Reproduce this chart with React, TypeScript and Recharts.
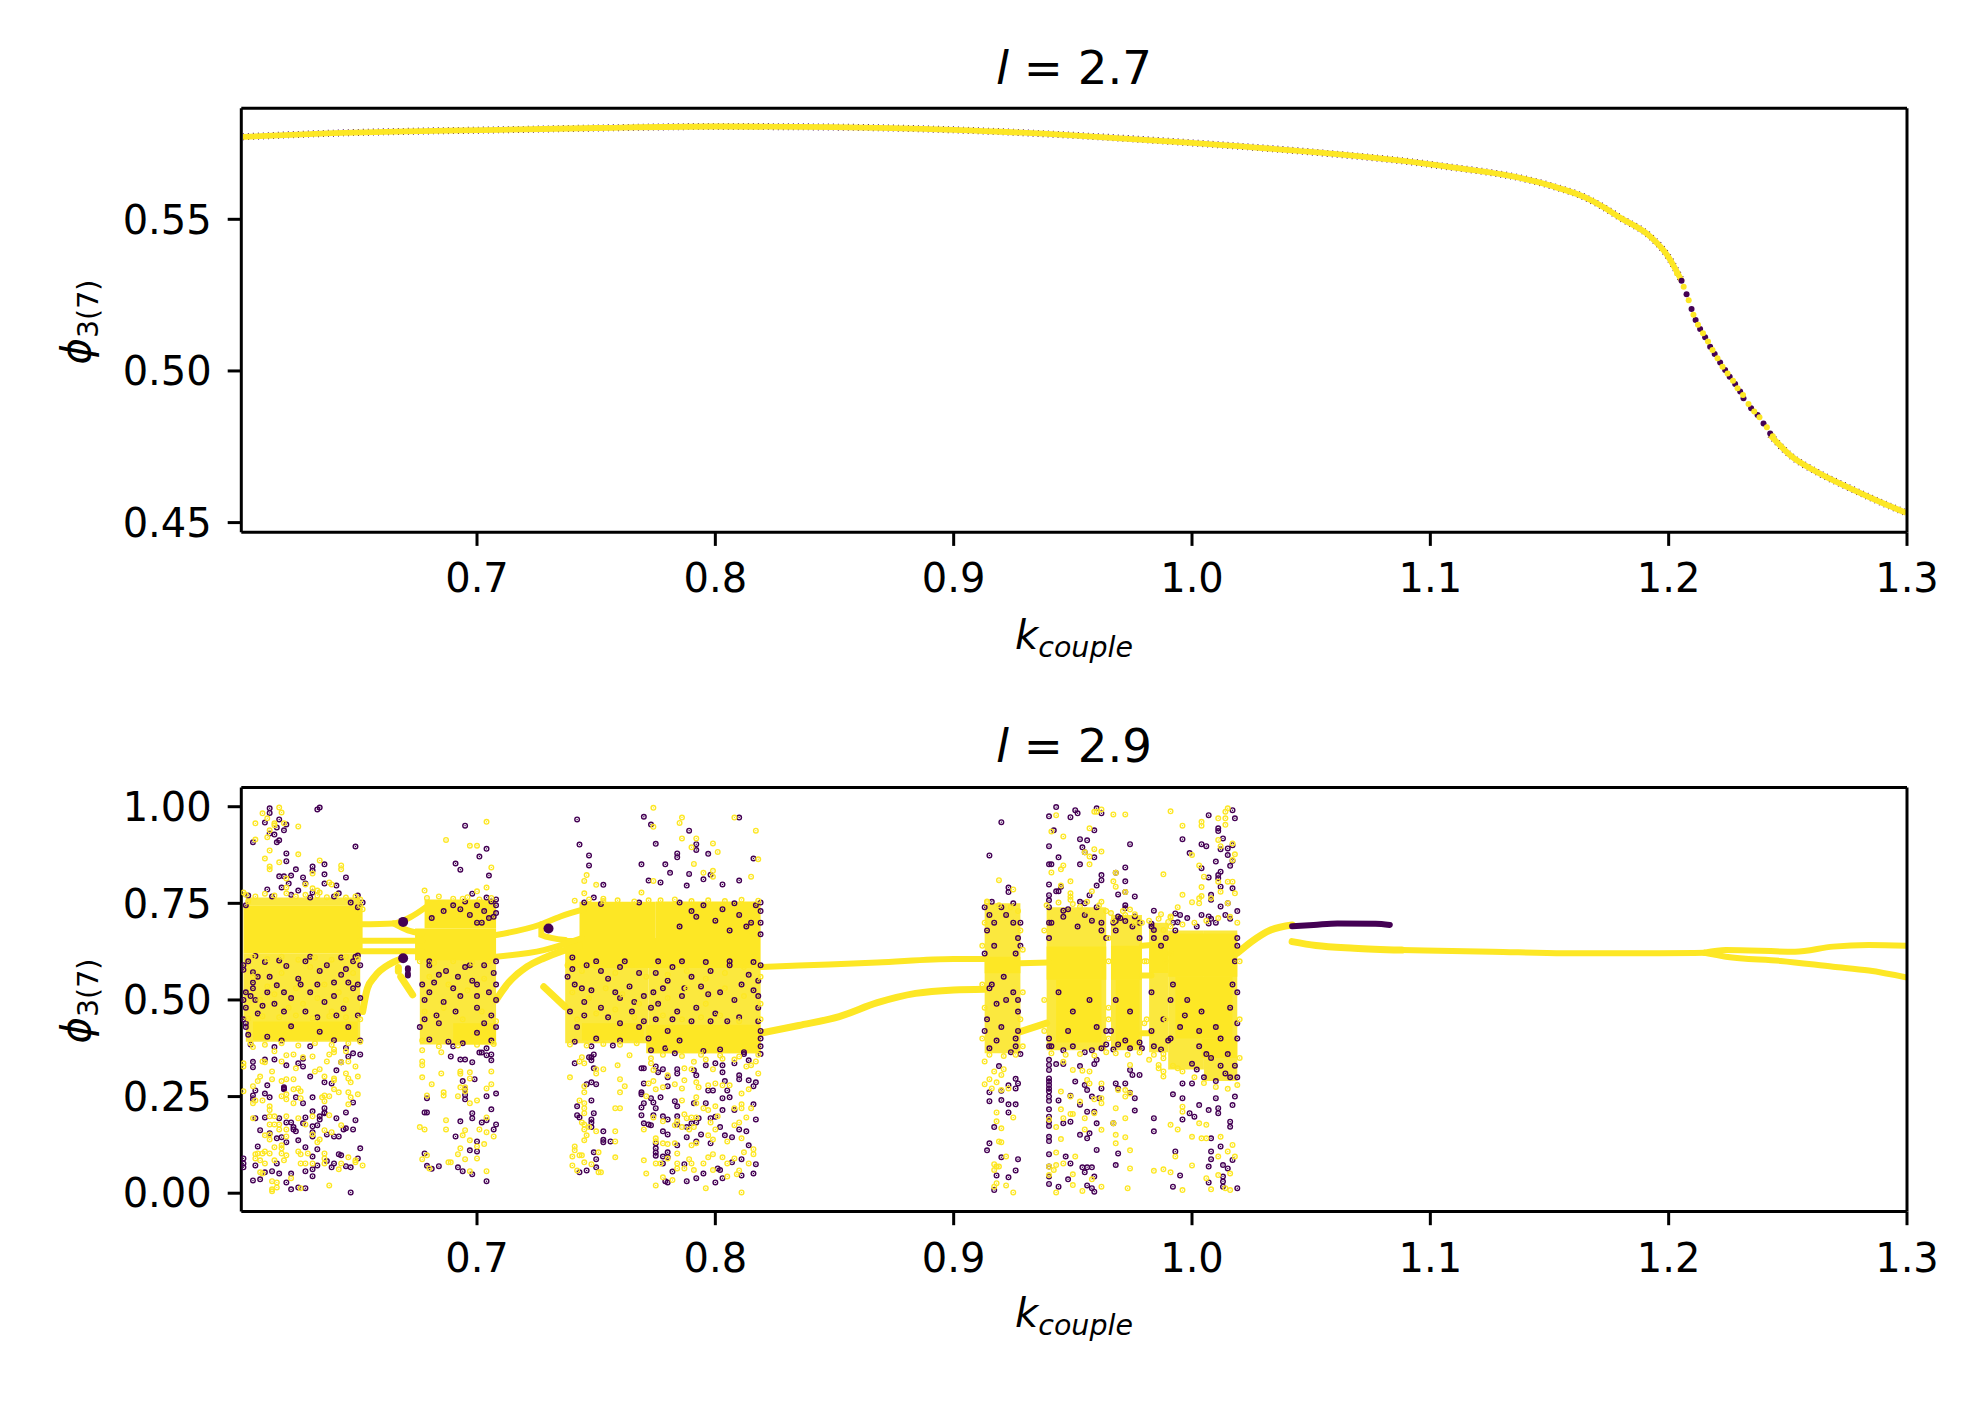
import { Area, ComposedChart, Line, Scatter, XAxis, YAxis } from "recharts";

const PURPLE = "#440154";
const YELLOW = "#fde725";
const PALE = "#fbe83e";

const X_DOMAIN = [0.6011, 1.3];
const X_TICKS = [0.7, 0.8, 0.9, 1.0, 1.1, 1.2, 1.3];
const TOP_DOMAIN = [0.4468, 0.5866];
const TOP_TICKS = [0.45, 0.5, 0.55];
const BOTTOM_DOMAIN = [-0.0476, 1.0497];
const BOTTOM_TICKS = [0, 0.25, 0.5, 0.75, 1];

// l = 2.7 : single branch
const topK = [0.6018, 0.6396, 0.6705, 0.7097, 0.75, 0.8, 0.85, 0.9, 0.95, 1.0, 1.05, 1.1, 1.15, 1.165, 1.172, 1.1797, 1.1923, 1.1993, 1.2056, 1.2077, 1.2098, 1.2132, 1.2188, 1.2258, 1.2342, 1.2426, 1.251, 1.2622, 1.2762, 1.2902, 1.2997];
const topPhi = [0.5772, 0.5784, 0.579, 0.5795, 0.5801, 0.5806, 0.5804, 0.5795, 0.5777, 0.5752, 0.5722, 0.5681, 0.5612, 0.5572, 0.5543, 0.5505, 0.5443, 0.5383, 0.5295, 0.525, 0.5203, 0.5135, 0.5058, 0.4976, 0.4882, 0.4789, 0.4722, 0.4667, 0.4613, 0.4563, 0.4532];
const topDotsPurple = [[1.2054, 0.5297], [1.2075, 0.5253], [1.2096, 0.5204], [1.2113, 0.5168], [1.2132, 0.5138], [1.2153, 0.5111], [1.2174, 0.508], [1.2193, 0.5056], [1.2216, 0.5028], [1.2237, 0.5003], [1.2256, 0.4981], [1.2279, 0.4957], [1.23, 0.4932], [1.2314, 0.491], [1.2346, 0.4877], [1.2373, 0.4855], [1.2398, 0.4827], [1.2426, 0.4794]];
const topDotsYellow = [[1.2035, 0.5322], [1.2063, 0.5278], [1.2084, 0.5233], [1.2104, 0.5185], [1.2123, 0.5152], [1.2144, 0.5124], [1.2165, 0.5097], [1.2184, 0.5069], [1.2205, 0.5042], [1.2226, 0.5014], [1.2247, 0.4992], [1.227, 0.4968], [1.2289, 0.4943], [1.2312, 0.4921], [1.2335, 0.4891], [1.2359, 0.4866], [1.2381, 0.4847], [1.2412, 0.4814], [1.2437, 0.4785]];

// l = 2.9 : everything below is k*1000, phi*1000 in flat pairs
const strands = [
  [651, 696, 665, 698, 672, 714, 679, 742],
  [665, 698, 671, 680, 677, 672],
  [651, 653, 677, 653],
  [651, 626, 677, 626],
  [708, 668, 727, 696, 735, 716, 745, 735],
  [727, 696, 727, 668, 737, 655],
  [708, 612, 728, 629, 744, 660],
  [819, 585, 835, 589, 868, 597, 900, 606, 914, 606],
  [928, 595, 940, 597],
  [979, 640, 983, 642],
  [979, 563, 983, 563],
  [979, 414, 983, 414],
  [1088, 629, 1126, 625, 1156, 621, 1196, 621, 1215, 622],
  [1215, 622, 1224, 629, 1253, 625, 1269, 638, 1284, 642, 1300, 640],
  [1215, 622, 1224, 612, 1247, 601, 1269, 586, 1284, 576, 1300, 558],
];
const thickStrands = [
  [652, 470, 654, 530, 657, 560, 664, 595, 669, 608],
  [668, 560, 673, 513],
  [667, 574, 667, 584],
  [708, 500, 713, 543, 721, 586, 728, 608, 735, 625, 743, 640],
  [728, 534, 737, 482],
  [819, 414, 835, 434, 852, 457, 868, 493, 884, 517, 900, 526, 913, 528],
  [928, 418, 939, 440],
  [1019, 621, 1025, 651, 1033, 681, 1042, 694],
  [1042, 651, 1052, 641, 1068, 634, 1088, 629],
];
const purpleStrands = [
  [1042, 691, 1051, 694, 1061, 698, 1077, 697, 1083, 694],
  [671, 582, 671, 578],
  [671, 568, 671, 563],
];
const purpleBlobs = [669, 702, 669, 608, 730, 685];

// solid and mottled patches: k start, k end, phi low, phi high
const paleBlocks = [
  [602, 651, 448, 620], [603, 651, 745, 765], [603, 651, 392, 448],
  [676, 708, 385, 605], [737, 772, 388, 597], [772, 819, 362, 597],
  [913, 928, 362, 750], [939, 964, 370, 740], [966, 979, 370, 720],
  [982, 990, 365, 700], [990, 1005, 320, 680], [1005, 1019, 290, 680],
];
const solidBlocks = [
  [602, 652, 620, 745], [606, 650, 396, 444],
  [674, 708, 603, 685], [678, 708, 685, 760], [690, 708, 385, 440],
  [737, 819, 583, 660], [743, 775, 660, 754], [775, 819, 660, 755],
  [744, 770, 395, 440], [771, 819, 362, 436],
  [913, 928, 569, 612], [939, 964, 552, 638], [943, 962, 390, 552], [966, 979, 552, 640], [968, 978, 380, 552],
  [982, 990, 570, 650], [990, 1019, 560, 672], [993, 1017, 400, 560], [1004, 1019, 350, 400],
];

const purpleSparse = [
  613, 996, 613, 984, 611, 959, 617, 967, 620, 954, 616, 946, 619, 939, 613, 931, 615, 928, 617, 913, 616, 908, 606, 908, 633, 993, 634, 998, 649, 897, 620, 879, 620, 859, 631, 845, 631, 835, 636, 851, 624, 838, 622, 822, 617, 820, 619, 820, 627, 817, 636, 825, 645, 817, 621, 801, 628, 801, 636, 801, 641, 796, 612, 786, 618, 791, 625, 783, 631, 778, 642, 776,
  606, 340, 606, 326, 611, 346, 615, 346, 627, 348, 625, 336, 627, 328, 620, 331, 630, 302, 641, 318, 636, 287, 639, 284, 619, 271, 619, 269, 619, 274, 612, 279, 607, 266, 606, 253, 606, 243, 611, 258, 613, 248, 624, 248, 631, 248, 627, 233, 648, 235, 645, 209, 631, 212, 636, 220, 636, 209, 636, 207, 634, 199, 634, 191, 607, 194, 611, 196, 628, 196, 641, 194, 649, 189, 617, 194, 620, 183, 622, 183, 623, 171, 623, 165, 624, 160, 627, 181, 631, 173, 633, 176, 609, 163, 637, 152, 640, 147, 642, 147, 645, 168, 644, 165, 648, 165, 613, 155, 616, 142, 618, 145, 625, 137, 631, 158, 631, 147, 608, 121, 620, 132, 628, 119, 633, 114, 651, 116, 642, 101, 643, 98, 650, 90, 631, 95, 602, 90, 602, 77, 602, 67, 607, 72, 616, 77, 633, 72, 637, 83, 640, 77, 645, 70, 647, 67, 639, 67, 617, 51, 614, 57, 611, 54, 622, 51, 628, 57, 631, 62, 631, 44, 606, 33, 609, 36, 620, 28, 622, 10, 625, 15, 628, 13, 647, 2, 648, 362, 651, 359, 643, 339, 646, 354,
  695, 951, 691, 853, 693, 837, 701, 871, 704, 891, 705, 822, 698, 775,
  689, 354, 693, 346, 695, 346, 698, 339, 701, 364, 702, 364, 704, 375, 706, 359, 704, 357, 706, 344, 694, 290, 699, 295, 695, 269, 695, 254, 695, 243, 704, 251, 708, 258, 679, 246, 679, 209, 678, 209, 698, 207, 698, 194, 706, 217, 693, 186, 702, 183, 704, 189, 708, 178, 707, 165, 691, 147, 700, 134, 697, 111, 700, 108, 678, 103, 679, 71, 681, 63, 684, 70, 692, 67, 694, 57, 698, 49, 704, 31,
  742, 967, 743, 902, 747, 874, 747, 848, 753, 798, 749, 765, 770, 974, 773, 954, 775, 904, 769, 851, 779, 851, 784, 879, 784, 869, 789, 938, 792, 903, 792, 888, 797, 878, 781, 829, 789, 826, 795, 812, 798, 824, 803, 799, 810, 809, 816, 866, 810, 972, 772, 809, 777, 804, 788, 796,
  741, 336, 747, 352, 748, 352, 749, 359, 748, 344, 749, 323, 748, 287, 746, 282, 750, 282, 748, 240, 742, 225, 742, 202, 743, 196, 749, 207, 748, 191, 748, 183, 748, 171, 753, 160, 753, 138, 753, 132, 756, 134, 749, 106, 750, 88, 750, 67, 746, 59, 743, 54,
  769, 323, 770, 323, 775, 328, 773, 370, 776, 313, 778, 321, 780, 300, 784, 321, 784, 310, 770, 284, 769, 261, 769, 256, 774, 235, 770, 233, 769, 222, 773, 246, 777, 248, 780, 277, 783, 238, 784, 225, 775, 220, 774, 202, 769, 202, 770, 181, 772, 178, 773, 176, 778, 199, 780, 191, 784, 178, 784, 199, 788, 171, 778, 160, 780, 152, 788, 145, 791, 318, 792, 305, 796, 331, 800, 336, 803, 331, 808, 336, 814, 344, 803, 313, 810, 305, 810, 295, 804, 290, 805, 266, 803, 246, 806, 248, 797, 266, 799, 266, 791, 233, 796, 233, 803, 215, 808, 215, 816, 230, 814, 292, 817, 287, 816, 277, 793, 194, 792, 183, 790, 181, 798, 194, 800, 198, 802, 171, 807, 145, 804, 150, 813, 160, 810, 165, 817, 191, 794, 152, 798, 129, 792, 134, 775, 129, 775, 116, 775, 105, 775, 97, 784, 124, 780, 106, 780, 93, 778, 95, 814, 124, 811, 88, 807, 80, 817, 75, 811, 46, 816, 51, 792, 39, 788, 31, 779, 31, 780, 28, 800, 28, 803, 39, 795, 51, 782, 56, 778, 77, 787, 75, 801, 64, 802, 60,
  920, 960, 915, 874, 923, 791, 923, 779, 925, 750, 916, 754, 919, 329, 923, 279, 926, 296, 927, 284, 926, 271, 915, 261, 920, 265, 920, 241, 915, 238, 923, 230, 926, 230, 923, 209, 917, 171, 915, 129, 914, 111, 920, 93, 927, 88, 926, 59, 918, 46, 923, 41, 917, 8,
  943, 999, 940, 975, 951, 991, 952, 983, 949, 973, 960, 996, 962, 983, 942, 939, 959, 939, 940, 898, 953, 916, 956, 913, 954, 895, 944, 869, 940, 851, 941, 851, 953, 851, 959, 869, 955, 882, 962, 823, 962, 810, 940, 799, 960, 796, 945, 793, 943, 781, 944, 781, 940, 771, 940, 758, 957, 771, 953, 754, 955, 750, 946, 731,
  940, 345, 940, 332, 940, 319, 940, 297, 940, 289, 940, 280, 940, 271, 940, 263, 940, 250, 940, 239, 940, 217, 940, 198, 940, 185, 940, 174, 940, 146, 940, 135, 940, 101, 940, 69, 940, 43, 940, 24, 943, 334, 946, 334, 953, 329, 960, 345, 959, 334, 951, 289, 955, 280, 956, 267, 962, 271, 944, 240, 949, 252, 953, 229, 958, 250, 961, 246, 956, 211, 959, 211, 946, 181, 949, 185, 960, 181, 957, 155, 953, 151, 956, 142, 960, 112, 947, 95, 949, 77, 954, 67, 956, 67, 958, 67, 955, 54, 959, 43, 948, 36, 944, 17, 956, 20, 958, 13, 959, 4,
  974, 903, 972, 843, 968, 829, 972, 807, 969, 773, 972, 779, 976, 768, 972, 745, 972, 737, 976, 716, 969, 716, 968, 704, 972, 704, 974, 319, 975, 306, 978, 306, 968, 284, 972, 284, 969, 271, 974, 260, 976, 246, 976, 214, 967, 181, 969, 103, 968, 73,
  984, 731, 983, 697, 984, 681, 984, 194, 984, 160,
  996, 916, 1004, 903, 1006, 898, 999, 880, 1007, 978, 1017, 991, 1018, 970, 1017, 900, 1015, 892, 1012, 890, 1011, 944, 1011, 937, 1013, 918, 1010, 858, 1015, 875, 1017, 860, 1016, 847, 1012, 832, 1011, 823, 1011, 815, 1007, 817, 1004, 841, 1012, 793, 1017, 789, 1008, 772, 1008, 759, 1012, 742, 993, 724, 995, 720, 994, 701, 1007, 716, 1007, 698, 1015, 750,
  996, 284, 992, 256, 996, 246, 1000, 284, 999, 207, 1001, 198, 996, 191, 1003, 228, 993, 108, 1008, 108, 1008, 88, 995, 46, 992, 17, 1007, 69, 1007, 28, 1013, 73, 1015, 64, 1013, 43, 1013, 30, 1013, 17, 1019, 13, 1017, 86, 1008, 142, 1012, 121, 1011, 207, 1011, 220, 1016, 172, 1016, 185, 1017, 228, 1018, 250, 1010, 246, 1007, 215,
];

const yellowSparse = [
  617, 998, 618, 985, 610, 983, 612, 970, 615, 957, 615, 952, 619, 957, 607, 957, 625, 949, 613, 939, 612, 921, 607, 915, 613, 887, 625, 877, 611, 866, 617, 856, 613, 845, 613, 838, 634, 861, 631, 827, 643, 848, 643, 838, 620, 814, 638, 804, 639, 799, 628, 799, 620, 791, 631, 789, 633, 783, 634, 778, 602, 778,
  606, 378, 610, 341, 611, 339, 615, 367, 620, 357, 618, 341, 623, 359, 624, 323, 627, 352, 631, 354, 632, 315, 634, 321, 637, 341, 640, 372, 640, 365, 638, 359, 643, 339, 645, 367, 646, 341, 649, 328, 602, 336, 602, 328, 609, 302, 608, 290, 606, 277, 602, 264, 614, 315, 614, 295, 618, 290, 620, 295, 623, 295, 623, 269, 626, 264, 625, 271, 640, 297, 640, 292, 636, 302, 645, 310, 646, 297, 650, 302, 647, 287, 640, 269, 642, 261, 646, 261, 647, 248, 650, 256, 636, 253, 635, 248, 638, 251, 636, 238, 618, 251, 620, 256, 620, 243, 623, 233, 626, 246, 607, 240, 606, 233, 610, 240, 613, 225, 613, 215, 646, 230, 638, 202, 631, 199, 625, 194, 613, 199, 615, 199, 620, 199, 606, 194, 613, 178, 615, 178, 617, 178, 617, 165, 620, 165, 628, 178, 643, 176, 636, 163, 639, 158, 611, 150, 613, 152, 613, 139, 620, 147, 631, 152, 634, 139, 633, 132, 618, 124, 618, 116, 615, 119, 607, 101, 608, 103, 610, 103, 611, 108, 613, 103, 618, 103, 620, 98, 625, 108, 626, 101, 629, 103, 636, 103, 636, 90, 607, 90, 609, 85, 611, 77, 615, 85, 619, 85, 626, 77, 628, 77, 631, 77, 636, 77, 643, 77, 646, 93, 649, 80, 649, 85, 652, 72, 642, 62, 609, 54, 610, 51, 622, 39, 614, 31, 616, 28, 616, 15, 614, 10, 614, 5, 626, 13, 638, 20,
  704, 961, 687, 914, 697, 899, 700, 899, 706, 843, 700, 781, 704, 791, 678, 783, 694, 762,
  677, 370, 685, 365, 677, 341, 677, 331, 685, 310, 677, 300, 681, 282, 693, 315, 693, 309, 697, 313, 697, 297, 706, 315, 706, 282, 704, 271, 695, 274, 693, 274, 695, 264, 692, 251, 686, 261, 686, 253, 679, 253, 700, 240, 697, 233, 687, 189, 704, 196, 676, 171, 678, 165, 687, 165, 695, 163, 701, 165, 704, 158, 707, 147, 694, 150, 697, 137, 703, 127, 700, 121, 693, 116, 692, 101, 679, 98, 677, 88, 695, 88, 688, 80, 689, 80, 697, 57, 704, 57, 680, 64, 700, 90,
  774, 997, 774, 948, 786, 972, 785, 958, 786, 918, 790, 895, 792, 918, 799, 905, 801, 883, 791, 852, 795, 829, 799, 834, 799, 819, 808, 972, 817, 938, 818, 864, 815, 819, 746, 823, 745, 808, 750, 798, 745, 776, 753, 762, 769, 778, 774, 808,
  744, 352, 743, 341, 745, 336, 750, 321, 750, 310, 753, 321, 759, 331, 764, 357, 739, 300, 760, 295, 762, 277, 745, 277, 745, 261, 760, 261, 743, 240, 745, 233, 745, 220, 745, 207, 758, 220, 760, 220, 744, 183, 745, 178, 745, 165, 747, 171, 750, 160, 758, 160, 746, 150, 745, 137, 758, 134, 741, 121, 741, 111, 740, 95, 743, 98, 744, 98, 751, 106, 758, 93, 745, 80, 748, 75, 740, 72, 742, 59, 751, 54, 752, 54,
  773, 349, 773, 336, 774, 319, 780, 305, 787, 323, 790, 321, 791, 340, 796, 346, 799, 321, 803, 348, 808, 346, 813, 328, 815, 331, 817, 341, 818, 310, 787, 292, 792, 287, 797, 279, 793, 274, 800, 284, 803, 279, 806, 279, 814, 269, 811, 258, 774, 290, 772, 284, 775, 269, 771, 251, 778, 274, 783, 282, 786, 271, 786, 240, 792, 248, 792, 233, 795, 220, 797, 215, 800, 225, 808, 220, 811, 230, 815, 220, 811, 220, 774, 196, 778, 186, 787, 204, 788, 194, 790, 196, 792, 196, 801, 199, 813, 196, 808, 176, 810, 183, 798, 183, 800, 165, 784, 186, 783, 176, 770, 165, 786, 171, 789, 165, 791, 171, 775, 142, 775, 134, 778, 129, 780, 127, 783, 129, 792, 129, 790, 124, 805, 134, 811, 142, 797, 150, 799, 139, 812, 106, 816, 114, 816, 101, 814, 77, 808, 90, 803, 93, 799, 101, 797, 93, 789, 88, 790, 77, 795, 77, 784, 103, 784, 77, 780, 90, 770, 85, 775, 77, 777, 77, 784, 64, 787, 64, 791, 60, 799, 60, 805, 77, 810, 59, 809, 49, 805, 43, 796, 13, 811, 2, 775, 20, 771, 51, 778, 41, 782, 34,
  919, 810, 925, 786, 914, 753, 913, 341, 921, 321, 917, 315, 915, 295, 920, 306, 918, 287, 913, 282, 916, 271, 923, 271, 920, 267, 918, 209, 925, 196, 918, 186, 920, 168, 919, 134, 920, 132, 922, 95, 917, 75, 918, 69, 919, 69, 917, 60, 918, 26, 922, 20, 917, 17, 925, 2,
  943, 978, 941, 936, 946, 923, 957, 944, 959, 987, 960, 987, 962, 993, 959, 890, 962, 884, 955, 882, 957, 871, 957, 851, 946, 848, 945, 838, 941, 830, 949, 807, 945, 796, 949, 776, 949, 767, 949, 759, 958, 781, 962, 754, 953, 741, 956, 731,
  946, 340, 950, 319, 954, 317, 957, 315, 956, 293, 957, 284, 962, 284, 945, 263, 949, 250, 953, 237, 959, 243, 962, 246, 962, 233, 945, 217, 949, 205, 950, 205, 946, 194, 940, 191, 943, 171, 955, 165, 955, 194, 959, 207, 962, 164, 945, 140, 943, 105, 951, 95, 940, 69, 943, 73, 946, 77, 942, 60, 950, 49, 940, 47, 958, 36, 962, 17, 950, 21, 943, 2, 954, 6,
  967, 980, 972, 980, 968, 829, 967, 807, 968, 793, 972, 779, 974, 734, 967, 704, 972, 720, 976, 700, 974, 332, 969, 267, 972, 267, 974, 258, 972, 250, 968, 220, 972, 194, 967, 181, 968, 151, 972, 145, 968, 129, 974, 111, 974, 64, 973, 13,
  991, 988, 988, 825, 987, 722, 991, 713, 988, 681, 982, 345, 986, 332, 986, 323, 988, 315, 988, 302, 984, 58, 988, 62, 988, 349,
  1015, 996, 1014, 987, 1011, 970, 1004, 961, 1004, 951, 996, 951, 1014, 970, 1014, 953, 1011, 914, 1017, 905, 1012, 898, 1018, 877, 1017, 862, 1000, 875, 1003, 848, 1005, 819, 1004, 792, 1015, 806, 1017, 806, 1011, 806, 1012, 780, 1018, 776, 996, 772, 1004, 769, 1003, 763, 1000, 753, 1003, 750, 994, 740, 1008, 763, 1015, 750, 991, 716,
  994, 323, 996, 224, 996, 211, 991, 177, 994, 165, 993, 95, 991, 54, 996, 8, 1000, 72, 1003, 181, 1006, 177, 1000, 146, 1004, 142, 1006, 142, 1012, 146, 1011, 95, 1015, 108, 1017, 125, 1018, 95, 1016, 51, 1011, 47, 1006, 39, 1008, 10, 1014, 13, 1016, 8,
];

// specks seen inside the crowded patches
const purpleSpecks = [
  607, 614, 602, 590, 602, 578, 606, 572, 606, 545, 611, 598, 608, 560, 620, 588, 628, 600, 634, 575, 637, 590, 645, 580, 648, 600, 650, 615, 643, 565, 640, 545, 625, 555, 616, 538, 612, 520, 605, 510, 603, 480, 608, 465, 615, 490, 622, 505, 630, 520, 636, 495, 648, 530, 651, 505, 644, 478, 628, 470, 619, 470, 610, 485, 633, 455, 641, 460, 650, 460, 622, 432, 634, 418, 612, 405, 646, 430, 651, 395, 604, 410, 618, 395, 640, 396,
  604, 770, 614, 768, 622, 772, 630, 765, 640, 768, 650, 770, 647, 752, 652, 752, 650, 740, 603, 745, 649, 612, 651, 590, 643, 610, 630, 612, 617, 602, 604, 600, 606, 530, 603, 520, 602, 500, 607, 500, 613, 560, 619, 520, 626, 540, 633, 540, 640, 510, 646, 545, 650, 540, 602, 450, 603, 440, 603, 430, 605, 385, 615, 378, 630, 380, 645, 376,
  680, 590, 687, 575, 695, 585, 703, 590, 707, 570, 682, 545, 690, 530, 698, 550, 705, 520, 678, 500, 686, 495, 693, 510, 700, 480, 706, 460, 683, 460, 691, 470, 697, 590, 708, 600, 676, 430, 680, 398, 688, 392, 706, 395, 708, 430, 700, 415, 694, 388, 700, 745, 703, 730, 707, 715, 697, 720, 693, 735, 706, 755, 702, 700, 681, 712,
  704, 765, 708, 760, 708, 745, 708, 725, 705, 712, 700, 700, 695, 755, 690, 745, 686, 730, 680, 600, 684, 565, 692, 560, 700, 540, 708, 540, 677, 540, 680, 520, 700, 510, 684, 440, 678, 450, 708, 500, 703, 440, 690, 380,
  740, 580, 746, 590, 752, 575, 760, 585, 768, 570, 741, 540, 748, 525, 755, 555, 764, 535, 770, 510, 745, 495, 752, 480, 760, 505, 739, 470, 745, 460, 755, 455, 765, 470, 770, 445, 742, 430, 750, 400, 741, 392, 760, 395, 768, 430, 772, 400,
  745, 752, 752, 748, 768, 752, 762, 600, 750, 600, 740, 610, 738, 560, 744, 530, 758, 520, 766, 495, 774, 520, 760, 440, 748, 380, 757, 382,
  775, 570, 782, 585, 790, 560, 798, 575, 806, 590, 814, 565, 818, 550, 778, 530, 786, 510, 794, 535, 802, 520, 808, 500, 816, 525, 776, 490, 784, 470, 792, 480, 800, 465, 810, 455, 818, 480, 775, 450, 790, 445, 805, 445, 818, 445, 780, 420, 785, 395, 779, 375, 795, 368, 819, 380, 812, 365, 802, 372, 790, 730, 800, 705, 810, 720, 817, 745, 785, 690, 806, 680, 815, 700, 819, 670,
  785, 752, 795, 745, 808, 750, 819, 752, 819, 730, 819, 700, 813, 690, 803, 735, 792, 715, 776, 600, 786, 600, 796, 598, 806, 600, 816, 598, 819, 590, 780, 550, 787, 530, 797, 515, 811, 540, 818, 510, 773, 480, 782, 450, 798, 445, 812, 360, 819, 360, 819, 420, 819, 400, 783, 362,
  915, 720, 920, 740, 925, 700, 927, 660, 914, 680, 917, 640, 926, 620, 921, 560, 915, 530, 925, 520, 918, 490, 927, 470, 914, 450, 920, 430, 926, 400, 915, 375, 924, 365, 927, 420, 913, 740, 917, 700, 922, 720, 928, 700, 928, 640, 913, 620, 916, 540, 922, 500, 927, 500, 913, 420, 918, 395, 926, 380, 928, 360,
  941, 700, 946, 715, 952, 690, 958, 705, 962, 680, 941, 380, 946, 370, 955, 365, 962, 375, 944, 520, 950, 470, 957, 500, 960, 430, 948, 420, 940, 740, 940, 700, 940, 660, 940, 400, 940, 380, 948, 735, 955, 720, 960, 740, 962, 700, 964, 660, 964, 420, 964, 385, 950, 380, 958, 370,
  968, 680, 975, 690, 978, 660, 968, 500, 974, 470, 978, 390, 969, 385, 974, 375, 984, 660, 987, 640, 983, 520, 988, 450, 984, 380, 987, 372, 967, 700, 970, 712, 978, 700, 966, 420, 972, 395, 979, 375, 967, 372, 983, 690, 989, 660, 983, 420, 990, 395,
  993, 680, 1002, 690, 1010, 700, 1016, 710, 1019, 660, 1018, 600, 992, 540, 998, 500, 1004, 470, 1010, 430, 1012, 400, 1015, 360, 1018, 330, 1008, 350, 1003, 380, 995, 430, 1016, 480, 1019, 440, 1014, 310, 1010, 290, 1005, 300, 1000, 335, 1017, 540,
  992, 700, 998, 712, 1004, 720, 1008, 710, 1014, 720, 1019, 730, 1019, 640, 1019, 520, 1019, 400, 1019, 300, 991, 500, 991, 400, 997, 460, 1003, 420, 1006, 360, 1012, 330, 1016, 300, 1002, 320,
];

// yellow rings crowding along the patch edges
const yellowFringe = [
  603, 772, 607, 768, 611, 775, 615, 770, 620, 776, 624, 768, 628, 772, 633, 770, 637, 766, 641, 772, 645, 765, 649, 768, 651, 760, 604, 755, 651, 745, 652, 735, 606, 612, 612, 606, 618, 612, 625, 604, 632, 610, 639, 604, 645, 612, 650, 606, 604, 452, 610, 458, 617, 455, 624, 460, 631, 452, 638, 458, 645, 455, 651, 450, 605, 388, 611, 384, 618, 388, 625, 382, 632, 388, 639, 384, 646, 388, 651, 392, 606, 560, 612, 535, 618, 570, 624, 530, 630, 585, 636, 540, 642, 520, 648, 570, 609, 500, 615, 515, 621, 480, 627, 490, 633, 505, 639, 470, 645, 500,
  679, 764, 684, 768, 690, 762, 696, 766, 701, 760, 706, 764, 676, 600, 682, 596, 690, 600, 698, 596, 705, 600, 680, 560, 688, 540, 696, 525, 703, 555, 678, 470, 686, 480, 694, 450, 702, 470, 708, 445, 684, 380, 692, 382, 700, 384, 707, 386, 677, 395,
  741, 757, 747, 760, 753, 756, 759, 758, 766, 755, 772, 758, 738, 590, 744, 575, 750, 585, 758, 570, 765, 590, 771, 560, 740, 520, 747, 505, 754, 530, 761, 515, 768, 490, 742, 450, 750, 465, 758, 475, 766, 455, 739, 385, 746, 382, 753, 386, 760, 384, 767, 388,
  777, 758, 783, 760, 790, 756, 797, 758, 804, 756, 811, 759, 818, 757, 774, 590, 780, 565, 788, 575, 796, 555, 804, 570, 812, 585, 819, 560, 780, 505, 788, 530, 796, 490, 804, 530, 812, 510, 819, 490, 778, 460, 786, 450, 794, 455, 802, 460, 810, 445, 819, 450, 778, 358, 786, 355, 794, 358, 802, 356, 810, 354, 818, 358, 776, 400, 781, 380,
  914, 755, 919, 745, 924, 740, 927, 730, 913, 700, 928, 680, 912, 640, 929, 630, 912, 540, 929, 520, 913, 480, 928, 450, 912, 400, 929, 380, 915, 358, 921, 355, 926, 358,
  939, 745, 944, 752, 950, 748, 956, 754, 961, 745, 964, 730, 938, 680, 965, 660, 938, 500, 965, 480, 938, 420, 965, 400, 941, 362, 947, 358, 953, 360, 959, 356, 964, 365,
  966, 725, 971, 730, 976, 722, 979, 700, 965, 600, 980, 600, 965, 450, 980, 440, 968, 362, 973, 358, 978, 364, 982, 705, 986, 710, 990, 702, 981, 600, 991, 620, 981, 450, 984, 358, 988, 360,
  991, 690, 996, 695, 1001, 700, 1006, 705, 1011, 712, 1016, 715, 1019, 700, 989, 600, 1020, 600, 989, 450, 1020, 450, 992, 330, 996, 315, 1001, 300, 1005, 285, 1010, 275, 1015, 270, 1019, 280, 1020, 350,
];

const toPoints = (flat: number[]) => {
  const out: { x: number; y: number }[] = [];
  for (let i = 0; i < flat.length; i += 2) out.push({ x: flat[i] / 1000, y: flat[i + 1] / 1000 });
  return out;
};
const toBand = ([k1, k2, lo, hi]: number[]) => [
  { x: k1 / 1000, y: [lo / 1000, hi / 1000] },
  { x: k2 / 1000, y: [lo / 1000, hi / 1000] },
];

const Ring = ({ cx, cy, color }: any) => (
  <g>
    <circle cx={cx} cy={cy} r={2.3} fill="none" stroke={color} strokeWidth={1.4} />
    <circle cx={cx} cy={cy} r={0.7} fill={color} />
  </g>
);

const tickStyle = { fontSize: 40, fontFamily: "DejaVu Sans", fill: "#000" };
const spine = { stroke: "#000", strokeWidth: 3 };

function frame(yDomain: number[], yTicks: number[]) {
  return [
    <XAxis key="xb" dataKey="x" type="number" domain={X_DOMAIN} ticks={X_TICKS} allowDataOverflow height={60} tickSize={13.6} tickMargin={18} axisLine={spine} tickLine={spine} tick={tickStyle} tickFormatter={(v: number) => v.toFixed(1)} interval={0} />,
    <XAxis key="xt" xAxisId="top" orientation="top" type="number" domain={X_DOMAIN} height={1} tick={false} tickLine={false} axisLine={spine} />,
    <YAxis key="yl" dataKey="y" type="number" domain={yDomain} ticks={yTicks} allowDataOverflow width={120} tickSize={13.6} tickMargin={16} axisLine={spine} tickLine={spine} tick={tickStyle} tickFormatter={(v: number) => v.toFixed(2)} interval={0} />,
    <YAxis key="yr" yAxisId="right" orientation="right" type="number" domain={yDomain} width={1} tick={false} tickLine={false} axisLine={spine} />,
  ];
}

function TopPanel() {
  const curve = topK.map((x, i) => ({ x, y: topPhi[i] }));
  const left = curve.filter((p) => p.x <= 1.2056);
  const right = curve.filter((p) => p.x >= 1.2426);
  const dotData = (list: number[][]) => list.map(([x, y]) => ({ x, y }));
  return (
    <ComposedChart width={1984} height={620} margin={{ top: 107.3, right: 76, bottom: 27.7, left: 121.3 }}>
      {frame(TOP_DOMAIN, TOP_TICKS)}
      {[left, right].map((seg, i) => (
        <Line key={"u" + i} data={seg} dataKey="y" type="monotone" stroke={PURPLE} strokeWidth={7} strokeDasharray="1 4" dot={false} isAnimationActive={false} />
      ))}
      {[left, right].map((seg, i) => (
        <Line key={"o" + i} data={seg} dataKey="y" type="monotone" stroke={YELLOW} strokeWidth={5.8} dot={false} isAnimationActive={false} />
      ))}
      <Scatter data={dotData(topDotsPurple)} dataKey="y" isAnimationActive={false} shape={(p: any) => <circle cx={p.cx} cy={p.cy} r={3} fill={PURPLE} />} />
      <Scatter data={dotData(topDotsYellow)} dataKey="y" isAnimationActive={false} shape={(p: any) => <circle cx={p.cx} cy={p.cy} r={3} fill={YELLOW} />} />
    </ComposedChart>
  );
}

function BottomPanel() {
  return (
    <ComposedChart width={1984} height={640} margin={{ top: 126.5, right: 76, bottom: 28.4, left: 121.3 }}>
      {frame(BOTTOM_DOMAIN, BOTTOM_TICKS)}
      {paleBlocks.map((b, i) => (
        <Area key={"p" + i} data={toBand(b)} dataKey="y" type="linear" fill={PALE} fillOpacity={1} stroke="none" dot={false} activeDot={false} isAnimationActive={false} />
      ))}
      {solidBlocks.map((b, i) => (
        <Area key={"s" + i} data={toBand(b)} dataKey="y" type="linear" fill={YELLOW} fillOpacity={1} stroke="none" dot={false} activeDot={false} isAnimationActive={false} />
      ))}
      {strands.map((s, i) => (
        <Line key={"l" + i} data={toPoints(s)} dataKey="y" type="monotone" stroke={YELLOW} strokeWidth={6} strokeLinecap="round" dot={false} isAnimationActive={false} />
      ))}
      {thickStrands.map((s, i) => (
        <Line key={"t" + i} data={toPoints(s)} dataKey="y" type="monotone" stroke={YELLOW} strokeWidth={7} strokeLinecap="round" dot={false} isAnimationActive={false} />
      ))}
      {purpleStrands.map((s, i) => (
        <Line key={"v" + i} data={toPoints(s)} dataKey="y" type="monotone" stroke={PURPLE} strokeWidth={6} strokeLinecap="round" dot={false} isAnimationActive={false} />
      ))}
      <Scatter data={toPoints(purpleBlobs)} dataKey="y" isAnimationActive={false} shape={(p: any) => <circle cx={p.cx} cy={p.cy} r={5} fill={PURPLE} />} />
      <Scatter data={toPoints(purpleSparse)} dataKey="y" isAnimationActive={false} shape={(p: any) => <Ring cx={p.cx} cy={p.cy} color={PURPLE} />} />
      <Scatter data={toPoints(purpleSpecks)} dataKey="y" isAnimationActive={false} shape={(p: any) => <Ring cx={p.cx} cy={p.cy} color={PURPLE} />} />
      <Scatter data={toPoints(yellowSparse)} dataKey="y" isAnimationActive={false} shape={(p: any) => <Ring cx={p.cx} cy={p.cy} color={YELLOW} />} />
      <Scatter data={toPoints(yellowFringe)} dataKey="y" isAnimationActive={false} shape={(p: any) => <Ring cx={p.cx} cy={p.cy} color={YELLOW} />} />
    </ComposedChart>
  );
}

const font = "DejaVu Sans";

function TextLayer() {
  const xLabel = (y: number) => (
    <text x={1074} y={y} textAnchor="middle" fontFamily={font} fontSize={40} fontStyle="italic">
      k<tspan fontSize={28.5} dy={8}>couple</tspan>
    </text>
  );
  const yLabel = (cy: number) => (
    <text transform={`translate(90,${cy}) rotate(-90)`} textAnchor="middle" fontFamily={font} fontSize={40}>
      <tspan fontStyle="italic">ϕ</tspan>
      <tspan fontSize={28.5} dy={8}>3(7)</tspan>
    </text>
  );
  const title = (y: number, t: string) => (
    <text x={1074} y={y} textAnchor="middle" fontFamily={font} fontSize={46.7}>
      <tspan fontStyle="italic">l</tspan> = {t}
    </text>
  );
  return (
    <svg width={1984} height={1402} style={{ position: "absolute", left: 0, top: 0, pointerEvents: "none" }}>
      {title(84, "2.7")}
      {title(762, "2.9")}
      {xLabel(649)}
      {xLabel(1327)}
      {yLabel(322)}
      {yLabel(1001)}
    </svg>
  );
}

export default function App() {
  return (
    <div style={{ position: "absolute", left: 0, top: 0, width: 1984, height: 1402, background: "#fff" }}>
      <div style={{ position: "absolute", left: 0, top: 0 }}>
        <TopPanel />
      </div>
      <div style={{ position: "absolute", left: 0, top: 660 }}>
        <BottomPanel />
      </div>
      <TextLayer />
    </div>
  );
}
